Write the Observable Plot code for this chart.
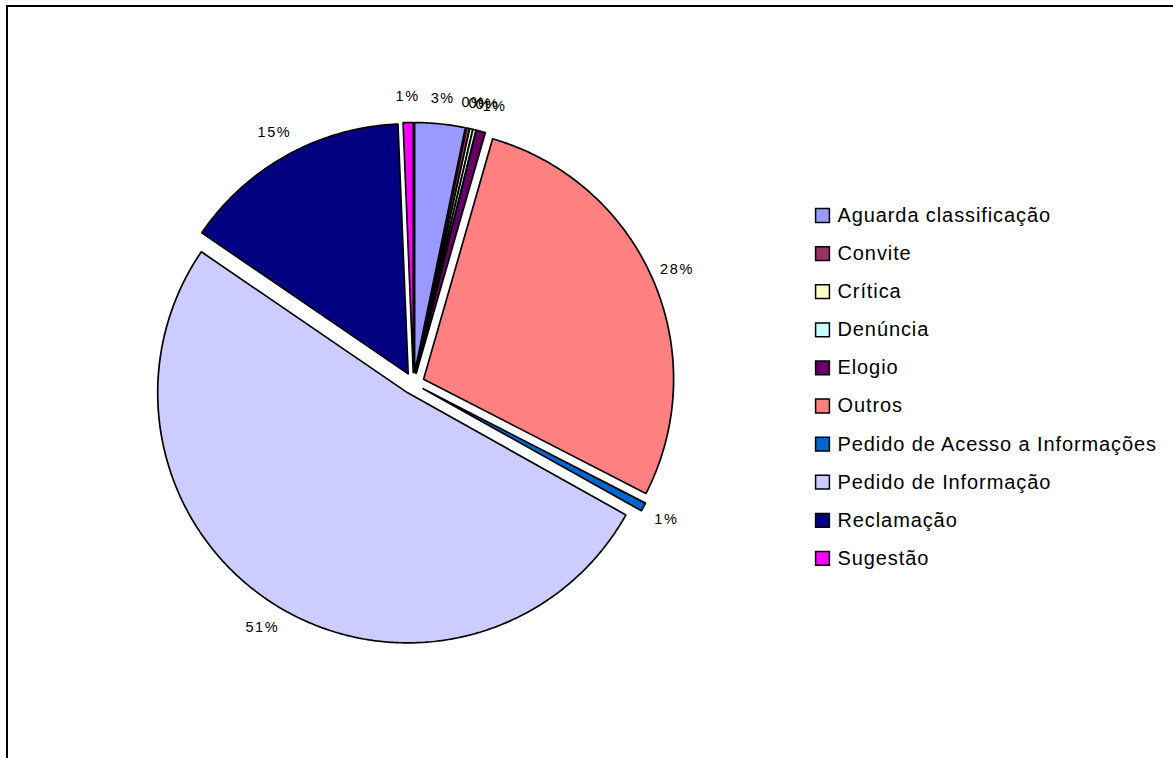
<!DOCTYPE html>
<html>
<head>
<meta charset="utf-8">
<script src="https://cdn.jsdelivr.net/npm/d3@7"></script>
<script src="https://cdn.jsdelivr.net/npm/@observablehq/plot@0.6"></script>
<style>
  html, body { margin: 0; padding: 0; background: #fff; }
  #wrap { position: relative; width: 1173px; height: 758px; overflow: hidden; }
  #frame { position: absolute; left: 6px; top: 5px; width: 2000px; height: 2000px;
           border-left: 2px solid #000; border-top: 2px solid #000; }
  #chart { position: absolute; left: 0; top: 0; }
  .pct text { letter-spacing: 1.6px; }
  .leg text { letter-spacing: 0.9px; }
</style>
</head>
<body>
<div id="wrap"><div id="frame"></div><div id="chart"></div></div>
<script>
// ---- data ----
const categories = ["Aguarda classificação", "Convite", "Crítica", "Denúncia", "Elogio",
  "Outros", "Pedido de Acesso a Informações", "Pedido de Informação", "Reclamação", "Sugestão"];
const shares = [3.25, 0.2, 0.2, 0.2, 0.6, 28.1, 0.55, 51.4, 14.8, 0.65];
const colors = ["#9999ff", "#993366", "#ffffcc", "#ccffff", "#660066",
  "#ff8080", "#0066cc", "#ccccff", "#000080", "#ff00ff"];

// ---- layout ----
const W = 1173, H = 758;
const CX = 413, CY = 383, R = 250, EXPLODE = 11, LABEL_R = 287;
const LX = 822, LY0 = 215, LSTEP = 38.1;

const arcs = d3.pie().sort(null).value(d => d)(shares);
const total = d3.sum(shares);

const slicePts = [];
const labels = [];
arcs.forEach((a, i) => {
  const name = categories[i];
  const mid = (a.startAngle + a.endAngle) / 2;
  const ox = CX + EXPLODE * Math.sin(mid), oy = CY - EXPLODE * Math.cos(mid);
  slicePts.push({name, x: ox, y: oy});
  const n = Math.max(2, Math.ceil((a.endAngle - a.startAngle) / 0.01));
  for (let k = 0; k <= n; k++) {
    const t = a.startAngle + (a.endAngle - a.startAngle) * k / n;
    slicePts.push({name, x: ox + R * Math.sin(t), y: oy - R * Math.cos(t)});
  }
  slicePts.push({name, x: ox, y: oy});
  let lx = CX + LABEL_R * Math.sin(mid), ly = CY - LABEL_R * Math.cos(mid);
  // simple collision push for crowded neighbouring labels (as the reference does)
  const prev = labels[labels.length - 1];
  if (prev && Math.abs(lx - prev.x) < 7 && Math.abs(ly - prev.y) < 10) lx = prev.x + 7;
  labels.push({name, x: lx, y: ly, text: Math.round(shares[i] / total * 100) + "%"});
});

const legend = categories.map((name, i) => ({name, x: LX, y: LY0 + i * LSTEP}));

const chart = Plot.plot({
  width: W, height: H, margin: 0,
  x: {domain: [0, W], range: [0, W], axis: null},
  y: {domain: [0, H], range: [0, H], axis: null},
  color: {domain: categories, range: colors},
  style: {background: "transparent", fontFamily: "'Liberation Sans', Arial, sans-serif"},
  marks: [
    Plot.line(slicePts, {x: "x", y: "y", z: "name", fill: "name", stroke: "#000",
      strokeWidth: 1.7, strokeLinejoin: "miter", curve: "linear"}),
    Plot.text(labels, {x: "x", y: "y", text: "text", fontSize: 14.5, fill: "#000",
      textAnchor: "middle", className: "pct"}),
    Plot.dot(legend, {x: "x", y: "y", symbol: "square", r: 7.8, fill: "name",
      stroke: "#000", strokeWidth: 1.5}),
    Plot.text(legend, {x: d => d.x + 15, y: "y", text: "name", textAnchor: "start",
      fontSize: 20, fill: "#000", className: "leg"})
  ]
});
document.getElementById("chart").appendChild(chart);
</script>
</body>
</html>
